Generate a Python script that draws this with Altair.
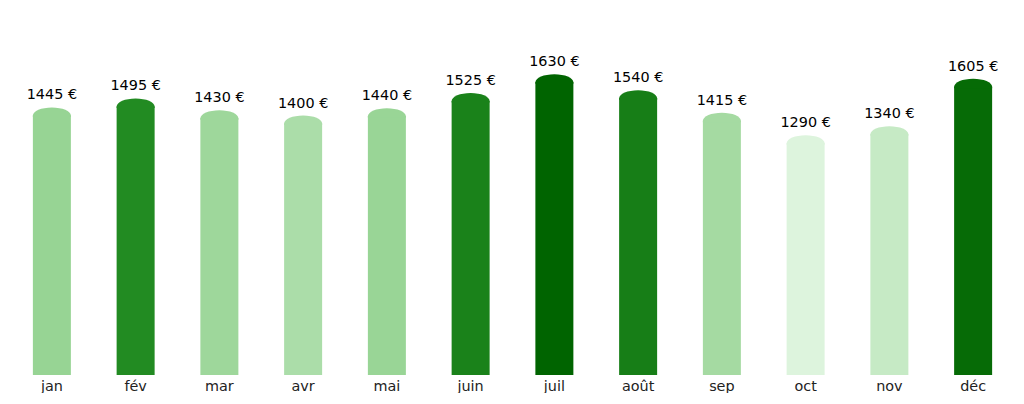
import altair as alt
import pandas as pd

months = ["jan", "fév", "mar", "avr", "mai", "juin", "juil", "août", "sep", "oct", "nov", "déc"]
values = [1445, 1495, 1430, 1400, 1440, 1525, 1630, 1540, 1415, 1290, 1340, 1605]

color_domain = [1290, 1445, 1494, 1495, 1630]
color_range = ["#ddf4dd", "#97d494", "#97d494", "#228b22", "#006400"]

df = pd.DataFrame({"month": months, "value": values})

# half-ellipse dome (rx=1, ry≈0.42) drawn as a custom symbol
dome = ("M -1 0.08 L -1 0 C -1 -0.2325 -0.5523 -0.421 0 -0.421 "
        "C 0.5523 -0.421 1 -0.2325 1 0 L 1 0.08 Z")

x = alt.X("month:N", sort=months, title=None,
          scale=alt.Scale(paddingInner=0, paddingOuter=0))
y = alt.Y("value:Q", title=None, axis=None, scale=alt.Scale(domain=[0, 2037.5]))
color = alt.Color("value:Q", legend=None,
                  scale=alt.Scale(domain=color_domain, range=color_range, interpolate="rgb"))

base = alt.Chart(df).encode(x=x, y=y)

bars = base.mark_bar(size=38).encode(color=color)
tops = base.mark_point(shape=dome, size=1444, filled=True, opacity=1, strokeWidth=0).encode(color=color)
labels = base.transform_calculate(
    label="format(datum.value, 'd') + ' €'"
).mark_text(dy=-16, baseline="alphabetic", fontSize=14.4, font="DejaVu Sans", color="black").encode(
    text="label:N"
)

chart = alt.layer(bars, tops, labels).properties(
    width=1005, height=366,
    padding={"left": 2, "top": 1, "right": 0, "bottom": 0},
).configure_view(stroke=None).configure_axis(
    grid=False, domain=False, ticks=False, labelFont="DejaVu Sans", labelFontSize=14.4,
    labelColor="#222222", labelPadding=4, labelAngle=0,
)

chart.save("out.html", embed_options={"renderer": "svg", "actions": False})
